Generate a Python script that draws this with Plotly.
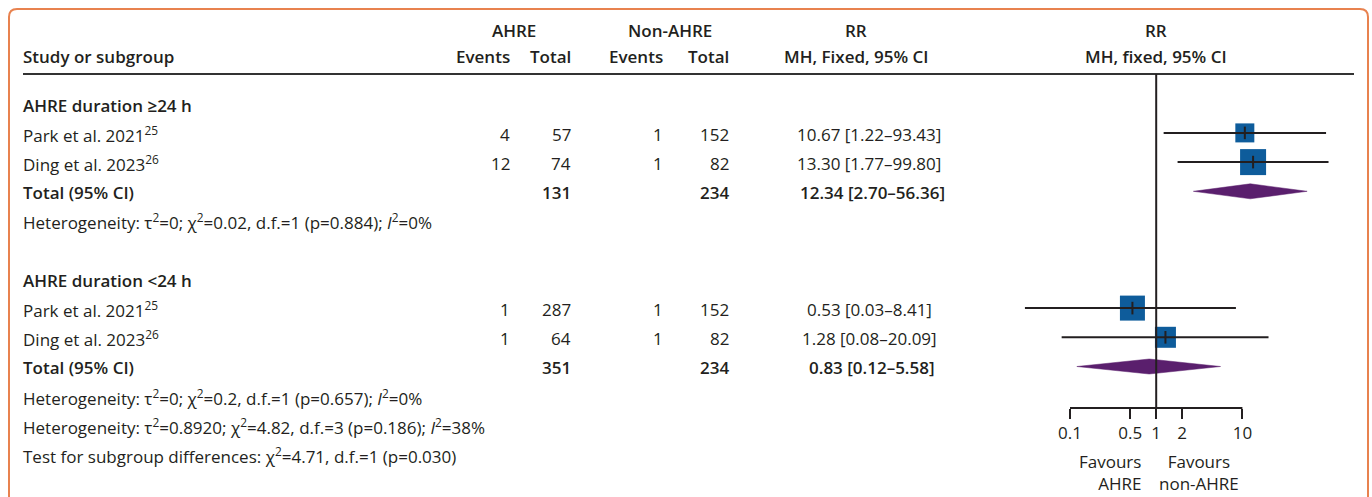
import plotly.graph_objects as go

# ---------------- data ----------------
group_titles = ["AHRE duration ≥24 h", "AHRE duration <24 h"]
study_labels = ["Park et al. 2021<sup>25</sup>", "Ding et al. 2023<sup>26</sup>"]

ahre_events_ge24 = [4, 12]
ahre_total_ge24 = [57, 74]
non_events_ge24 = [1, 1]
non_total_ge24 = [152, 82]
rr_ge24 = [10.67, 13.30]
rr_lo_ge24 = [1.22, 1.77]
rr_hi_ge24 = [93.43, 99.80]
pooled_ge24 = [12.34, 2.70, 56.36]   # estimate, lower, upper
totals_ge24 = [131, 234]             # AHRE total, non-AHRE total

ahre_events_lt24 = [1, 1]
ahre_total_lt24 = [287, 64]
non_events_lt24 = [1, 1]
non_total_lt24 = [152, 82]
rr_lt24 = [0.53, 1.28]
rr_lo_lt24 = [0.03, 0.08]
rr_hi_lt24 = [8.41, 20.09]
pooled_lt24 = [0.83, 0.12, 5.58]
totals_lt24 = [351, 234]

het_ge24 = "Heterogeneity: τ<sup>2</sup>=0; χ<sup>2</sup>=0.02, d.f.=1 (p=0.884); <i>I</i><sup>2</sup>=0%"
het_lt24 = "Heterogeneity: τ<sup>2</sup>=0; χ<sup>2</sup>=0.2, d.f.=1 (p=0.657); <i>I</i><sup>2</sup>=0%"
het_overall = "Heterogeneity: τ<sup>2</sup>=0.8920; χ<sup>2</sup>=4.82, d.f.=3 (p=0.186); <i>I</i><sup>2</sup>=38%"
subgroup_test = "Test for subgroup differences: χ<sup>2</sup>=4.71, d.f.=1 (p=0.030)"

tick_vals = [0.1, 0.5, 1, 2, 10]
tick_text = ["0.1", "0.5", "1", "2", "10"]

# ---------------- styling / layout ----------------
W, H = 1372, 497
FONT = "Open Sans"
FS = 17
INK = "#231f20"
BLUE = "#0e5c9b"
PURPLE = "#5a1f6d"
ORANGE = "#e8824f"

square_px_ge24 = [19, 26]
square_px_lt24 = [25, 21]

ROW0_PX = 103.7       # pixel centre of row 0
ROW_PX = 29.2         # row pitch
DECADE_PX = 86.2      # log axis: pixels per decade
X_TENTH_PX = 1070     # pixel where RR = 0.1 sits

COL_EV_A, COL_TOT_A, COL_EV_N, COL_TOT_N = 512, 573, 665, 731
COL_RR = 869
COL_STUDY = 21

def px_to_row(p):
    return (p - ROW0_PX) / ROW_PX

fig = go.Figure()
annotations = []

def label(x, row, text, anchor="left", bold=False, size=FS, dy=0.05):
    annotations.append(dict(
        x=x, y=row + dy, xref="x", yref="y", text=text, showarrow=False,
        xanchor=anchor, yanchor="middle", align=anchor if anchor != "center" else "center",
        font=dict(family=FONT, size=size, color=INK, weight=600 if bold else 400),
    ))

# header
hdr1, hdr2 = px_to_row(29.5), px_to_row(55)
label(514, hdr1, "AHRE", "center", True)
label(670, hdr1, "Non-AHRE", "center", True)
label(856, hdr1, "RR", "center", True)
label(COL_STUDY, hdr2, "Study or subgroup", "left", True)
label(COL_EV_A, hdr2, "Events", "right", True)
label(COL_TOT_A, hdr2, "Total", "right", True)
label(COL_EV_N, hdr2, "Events", "right", True)
label(COL_TOT_N, hdr2, "Total", "right", True)
label(856, hdr2, "MH, Fixed, 95% CI", "center", True)

def fmt_rr(est, lo, hi):
    return f"{est:.2f} [{lo:.2f}–{hi:.2f}]"

groups = [
    dict(title=group_titles[0], ev_a=ahre_events_ge24, tot_a=ahre_total_ge24,
         ev_n=non_events_ge24, tot_n=non_total_ge24, rr=rr_ge24, lo=rr_lo_ge24,
         hi=rr_hi_ge24, pooled=pooled_ge24, totals=totals_ge24, het=het_ge24,
         sq=square_px_ge24, start=0),
    dict(title=group_titles[1], ev_a=ahre_events_lt24, tot_a=ahre_total_lt24,
         ev_n=non_events_lt24, tot_n=non_total_lt24, rr=rr_lt24, lo=rr_lo_lt24,
         hi=rr_hi_lt24, pooled=pooled_lt24, totals=totals_lt24, het=het_lt24,
         sq=square_px_lt24, start=6),
]

DIAMOND_HALF = 7.5 / ROW_PX

for g in groups:
    r = g["start"]
    label(COL_STUDY, r, g["title"], "left", True)
    rows = []
    for i, name in enumerate(study_labels):
        row = r + 1 + i
        rows.append(row)
        label(COL_STUDY, row, name)
        label(COL_EV_A, row, str(g["ev_a"][i]), "right")
        label(COL_TOT_A, row, str(g["tot_a"][i]), "right")
        label(COL_EV_N, row, str(g["ev_n"][i]), "right")
        label(COL_TOT_N, row, str(g["tot_n"][i]), "right")
        label(COL_RR, row, fmt_rr(g["rr"][i], g["lo"][i], g["hi"][i]), "center")
    trow = r + 3
    label(COL_STUDY, trow, "Total (95% CI)", "left", True)
    label(COL_TOT_A, trow, str(g["totals"][0]), "right", True)
    label(COL_TOT_N, trow, str(g["totals"][1]), "right", True)
    est, lo, hi = g["pooled"]
    label(COL_RR + 3, trow, fmt_rr(est, lo, hi), "center", True)
    label(COL_STUDY, r + 4, g["het"])

    # study squares
    fig.add_trace(go.Scatter(
        x=g["rr"], y=rows, xaxis="x2", yaxis="y", mode="markers",
        marker=dict(symbol="square", size=g["sq"], color=BLUE, opacity=1,
                    line=dict(width=0)),
        hoverinfo="skip", showlegend=False, cliponaxis=False,
    ))
    # confidence intervals
    for i, row in enumerate(rows):
        fig.add_trace(go.Scatter(
            x=[g["lo"][i], g["hi"][i]], y=[row, row], xaxis="x2", yaxis="y",
            mode="lines", line=dict(color=INK, width=2),
            hoverinfo="skip", showlegend=False,
        ))
    # point-estimate ticks
    fig.add_trace(go.Scatter(
        x=g["rr"], y=rows, xaxis="x2", yaxis="y", mode="markers",
        marker=dict(symbol="line-ns", size=9, opacity=1, line=dict(color=INK, width=2)),
        hoverinfo="skip", showlegend=False,
    ))
    # pooled diamond
    fig.add_trace(go.Scatter(
        x=[lo, est, hi, est, lo],
        y=[trow, trow - DIAMOND_HALF, trow, trow + DIAMOND_HALF, trow],
        xaxis="x2", yaxis="y", mode="lines", fill="toself",
        fillcolor=PURPLE, line=dict(color=PURPLE, width=0.5),
        hoverinfo="skip", showlegend=False,
    ))

# footer statistics
label(COL_STUDY, 11, het_overall)
label(COL_STUDY, 12, subgroup_test)

# header rule
header_rule_row = px_to_row(74)
axis_row = px_to_row(408)
fig.add_trace(go.Scatter(
    x=[23, 1354], y=[header_rule_row, header_rule_row], xaxis="x", yaxis="y",
    mode="lines", line=dict(color="#333333", width=2), hoverinfo="skip", showlegend=False,
))
# line of no effect
fig.add_trace(go.Scatter(
    x=[1, 1], y=[header_rule_row, axis_row], xaxis="x2", yaxis="y",
    mode="lines", line=dict(color=INK, width=2), hoverinfo="skip", showlegend=False,
))
# scale bar of the forest plot
fig.add_trace(go.Scatter(
    x=[tick_vals[0], tick_vals[-1]], y=[axis_row, axis_row], xaxis="x2", yaxis="y",
    mode="lines", line=dict(color=INK, width=2), hoverinfo="skip", showlegend=False,
))

# forest panel header and direction labels
rr_center_px = X_TENTH_PX + DECADE_PX
label(rr_center_px, hdr1, "RR", "center", True)
label(rr_center_px, hdr2, "MH, fixed, 95% CI", "center", True)
annotations.append(dict(
    x=1143, y=px_to_row(472), xref="x", yref="y", showarrow=False,
    text="Favours<br>AHRE", xanchor="right", yanchor="middle", align="right",
    font=dict(family=FONT, size=FS, color=INK),
))
annotations.append(dict(
    x=1199, y=px_to_row(472), xref="x", yref="y", showarrow=False,
    text="Favours<br>non-AHRE", xanchor="center", yanchor="middle", align="center",
    font=dict(family=FONT, size=FS, color=INK),
))

log_lo = -1 - X_TENTH_PX / DECADE_PX
log_hi = log_lo + W / DECADE_PX

# rounded orange frame (open at the bottom)
def pfx(x):
    return x / W

def pfy(y):
    return 1 - y / H

r = 8
L, T, R, B = 9, 9, 1368, 540
frame = (f"M {pfx(L)},{pfy(B)} L {pfx(L)},{pfy(T + r)} Q {pfx(L)},{pfy(T)} {pfx(L + r)},{pfy(T)} "
         f"L {pfx(R - r)},{pfy(T)} Q {pfx(R)},{pfy(T)} {pfx(R)},{pfy(T + r)} L {pfx(R)},{pfy(B)}")

fig.update_layout(
    width=W, height=H,
    margin=dict(l=0, r=0, t=0, b=0),
    paper_bgcolor="white", plot_bgcolor="rgba(0,0,0,0)",
    showlegend=False,
    annotations=annotations,
    shapes=[dict(type="path", path=frame, xref="paper", yref="paper",
                 line=dict(color=ORANGE, width=2))],
    xaxis=dict(range=[0, W], domain=[0, 1], visible=False, fixedrange=True),
    xaxis2=dict(
        type="log", range=[log_lo, log_hi], domain=[0, 1], overlaying="x",
        anchor="free", position=1 - 408 / H, side="bottom",
        showline=False, showgrid=False, zeroline=False,
        tickmode="array", tickvals=tick_vals, ticktext=tick_text,
        ticks="outside", ticklen=10, tickwidth=2, tickcolor=INK,
        tickfont=dict(family=FONT, size=FS, color=INK), fixedrange=True,
    ),
    yaxis=dict(range=[px_to_row(H), px_to_row(0)], domain=[0, 1], visible=False,
               fixedrange=True),
)

fig.write_html("out.html")
